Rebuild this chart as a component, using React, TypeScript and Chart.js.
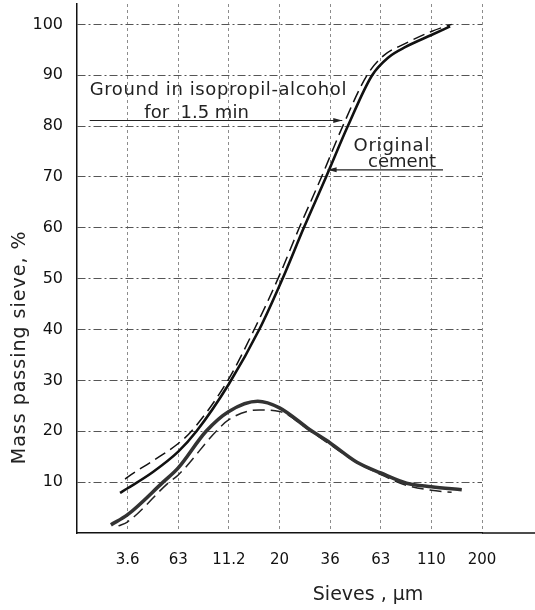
import React, { useEffect, useRef } from 'react';
import { Chart, registerables } from 'chart.js';

Chart.register(...registerables);

// Sieve tick labels (categories, equally spaced, index 0..7)
const sieveLabels = ['3.6', '63', '11.2', '20', '36', '63', '110', '200'];

// Cumulative curve, original cement (solid) — x in sieve-index units
const cumOriginalX = [-0.15, 0, 0.5, 1, 1.36, 2, 2.6, 3.06, 3.48, 3.92, 4.35, 4.83, 5.15, 5.5, 6, 6.37];
const cumOriginalY = [7.9, 8.8, 12, 16, 20, 29.3, 40, 50, 60, 70, 80, 90, 93.5, 95.6, 97.9, 99.6];

// Cumulative curve, ground in isopropil-alcohol (dashed)
const cumGroundX = [-0.05, 0, 0.5, 1, 1.26, 1.98, 2.5, 2.97, 3.39, 3.83, 4.25, 4.73, 5.05, 5.5, 6, 6.4];
const cumGroundY = [10.6, 11, 14.2, 17.6, 20, 30, 40, 50, 60, 70, 80, 90, 93.8, 96.3, 98.6, 100];

// Frequency curve, original cement (solid double line)
const freqOriginalX = [-0.33, 0, 0.7, 1, 1.55, 2, 2.57, 3, 3.6, 4, 4.53, 5, 5.51, 6, 6.6];
const freqOriginalY = [1.6, 3.6, 10, 12.8, 20, 23.9, 25.9, 24.6, 20.3, 17.7, 13.9, 11.8, 9.8, 9.1, 8.5];

// Frequency curve, ground (dashed)
const freqGroundX = [-0.18, 0, 0.82, 1, 1.75, 2, 2.6, 3, 3.6, 4, 4.5, 5, 5.5, 6, 6.4];
const freqGroundY = [1.4, 2.2, 10, 11.4, 20, 22.3, 24.2, 23.9, 20.1, 17.4, 14, 11.5, 9.4, 8.4, 8.0];

const FONT = '"DejaVu Sans", "Liberation Sans", sans-serif';

const toPts = (xs: number[], ys: number[]) => xs.map((x, k) => ({ x, y: ys[k] }));

const overlayPlugin = {
  id: 'overlay',
  afterDatasetsDraw(chart: any) {
    const { ctx, chartArea, scales } = chart;
    const xs = scales.x;
    const ys = scales.y;
    const px = (v: number) => xs.getPixelForValue(v);
    const py = (v: number) => ys.getPixelForValue(v);
    ctx.save();

    // extension of the baseline beyond the last grid line
    ctx.strokeStyle = '#111';
    ctx.lineWidth = 1.5;
    ctx.beginPath();
    ctx.moveTo(chartArea.right, chartArea.bottom);
    ctx.lineTo(chart.width, chartArea.bottom);
    ctx.stroke();

    const arrow = (x1: number, x2: number, y: number) => {
      const X1 = px(x1), X2 = px(x2), Y = py(y);
      ctx.strokeStyle = '#222';
      ctx.lineWidth = 1.2;
      ctx.beginPath();
      ctx.moveTo(X1, Y);
      ctx.lineTo(X2, Y);
      ctx.stroke();
      const dir = X2 > X1 ? 1 : -1;
      ctx.fillStyle = '#222';
      ctx.beginPath();
      ctx.moveTo(X2, Y);
      ctx.lineTo(X2 - dir * 9, Y - 2.5);
      ctx.lineTo(X2 - dir * 9, Y + 2.5);
      ctx.closePath();
      ctx.fill();
    };

    const text = (s: string, x: number, y: number, size: number, spacing = '0px') => {
      ctx.font = `${size}px ${FONT}`;
      (ctx as any).letterSpacing = spacing;
      ctx.fillStyle = '#222';
      ctx.textAlign = 'left';
      ctx.textBaseline = 'middle';
      ctx.fillText(s, px(x), py(y));
    };

    text('Ground in isopropil-alcohol', -0.75, 87, 18, '0.6px');
    text('for  1.5 min', 0.33, 82.6, 18, '0px');
    arrow(-0.75, 4.24, 81.1);

    text('Original', 4.46, 76.1, 18, '0.8px');
    text('cement', 4.75, 72.8, 18, '0px');
    arrow(6.23, 3.95, 71.4);

    // axis titles
    (ctx as any).letterSpacing = '0px';
    ctx.font = `19px ${FONT}`;
    ctx.fillStyle = '#222';
    ctx.textAlign = 'center';
    ctx.textBaseline = 'middle';
    ctx.fillText('Sieves , µm', px(4.75), chartArea.bottom + 62);

    ctx.save();
    ctx.translate(20, py(36.5));
    ctx.rotate(-Math.PI / 2);
    (ctx as any).letterSpacing = '1px';
    ctx.font = `19px ${FONT}`;
    ctx.fillText('Mass passing sieve, %', 0, 0);
    ctx.restore();

    ctx.restore();
  },
};

export default function App() {
  const ref = useRef<HTMLCanvasElement | null>(null);

  useEffect(() => {
    if (!ref.current) return;
    const common = { pointRadius: 0, fill: false, cubicInterpolationMode: 'monotone' as const };
    const chart = new Chart(ref.current, {
      type: 'line',
      data: {
        datasets: [
          { ...common, data: toPts(freqOriginalX, freqOriginalY), borderColor: '#333', borderWidth: 3.6 },
          { ...common, data: toPts(freqOriginalX, freqOriginalY), borderColor: '#c4c4c4', borderWidth: 1.2 },
          { ...common, data: toPts(freqGroundX, freqGroundY), borderColor: '#222', borderWidth: 1.5, borderDash: [12, 6] },
          { ...common, data: toPts(cumOriginalX, cumOriginalY), borderColor: '#111', borderWidth: 2.6 },
          { ...common, data: toPts(cumGroundX, cumGroundY), borderColor: '#111', borderWidth: 1.5, borderDash: [12, 6] },
        ],
      },
      options: {
        animation: false,
        responsive: false,
        maintainAspectRatio: false,
        layout: { padding: { top: 4, right: 53, left: 0, bottom: 0 } },
        plugins: { legend: { display: false }, tooltip: { enabled: false } },
        scales: {
          x: {
            type: 'linear',
            min: -1,
            max: 7,
            afterFit: (s: any) => { s.height = 77; s.paddingLeft = 0; s.paddingRight = 0; },
            ticks: {
              stepSize: 1,
              includeBounds: false,
              autoSkip: false,
              maxRotation: 0,
              padding: 18,
              color: '#111',
              font: { family: FONT, size: 15 },
              callback: (v: any) => (v >= 0 && Number.isInteger(v) ? sieveLabels[v] : ''),
            },
            grid: {
              drawTicks: false,
              lineWidth: 1,
              color: (c: any) => (c.tick && c.tick.value === -1 ? 'rgba(0,0,0,0)' : '#8c8c8c'),
            },
            border: { display: true, color: '#111', width: 1.5, dash: [3, 3] },
          },
          y: {
            type: 'linear',
            min: 0,
            max: 104,
            afterFit: (s: any) => { s.width = 77; s.paddingTop = 0; s.paddingBottom = 0; },
            ticks: {
              stepSize: 10,
              includeBounds: false,
              padding: 14,
              color: '#111',
              font: { family: FONT, size: 16 },
              callback: (v: any) => (v === 0 ? '' : String(v)),
            },
            grid: {
              drawTicks: false,
              lineWidth: 1,
              color: (c: any) => (c.tick && c.tick.value === 0 ? 'rgba(0,0,0,0)' : '#555'),
            },
            border: { display: true, color: '#111', width: 1.5, dash: [8, 3, 2, 3] },
          },
        },
      },
      plugins: [overlayPlugin],
    });
    return () => chart.destroy();
  }, []);

  return (
    <div style={{ position: 'fixed', left: 0, top: 0, width: 535, height: 610, background: '#fff' }}>
      <canvas ref={ref} width={535} height={610} style={{ display: 'block', width: 535, height: 610 }} />
    </div>
  );
}
